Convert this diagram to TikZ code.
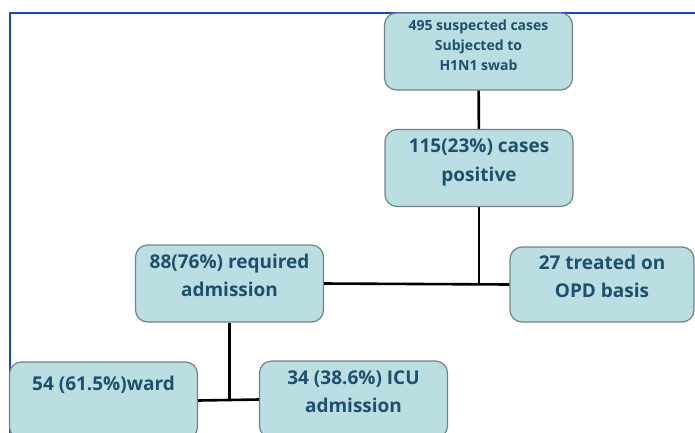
\documentclass[tikz,border=0pt]{standalone}
\usepackage{fontspec}
\setmainfont{Open Sans}
\definecolor{boxfill}{RGB}{186,222,226}
\definecolor{boxline}{RGB}{112,130,132}
\definecolor{boxtext}{RGB}{30,80,110}
\definecolor{framecol}{RGB}{30,70,200}

\begin{document}
\begin{tikzpicture}[x=1pt, y=-1pt, line join=round,
  box/.style={draw=boxline, fill=boxfill, line width=1.2pt, rounded corners=12pt,
    minimum width=188pt, minimum height=77pt, inner sep=0pt, align=center,
    text=boxtext, font=\fontsize{19}{28.5}\selectfont\bfseries, text depth=16pt},
  link/.style={line width=2.6pt, black}]
  \useasboundingbox (0,0) rectangle (695,432);
  \clip (0,0) rectangle (695,432);

  \draw[framecol, line width=2pt] (10,440) -- (10,13) -- (700,13);

  \node[box, font=\fontsize{14}{20}\selectfont\bfseries, text depth=12pt] (swab) at (478.5,51.5)
    {495 suspected cases\\Subjected to\\H1N1 swab};
  \node[box] (pos) at (479,168) {115(23\%) cases\\positive};
  \node[box] (req) at (229.5,283.5) {88(76\%) required\\admission};
  \node[box, minimum width=184pt, minimum height=75pt] (opd) at (602,284.5) {27 treated on\\OPD basis};
  \node[box, text depth=34pt] (ward) at (103.5,400.5) {54 (61.5\%)ward};
  \node[box] (icu) at (353.5,399.5) {34 (38.6\%) ICU\\admission};

  \draw[link] (swab) -- (pos);
  \draw[link] (pos.south) -- (pos.south |- req.east);
  \draw[link] (req.east) -- (opd.west);
  \draw[link] (req.south) -- (req.south |- ward.east);
  \draw[link] (ward.east) -- (icu.west);
\end{tikzpicture}
\end{document}
